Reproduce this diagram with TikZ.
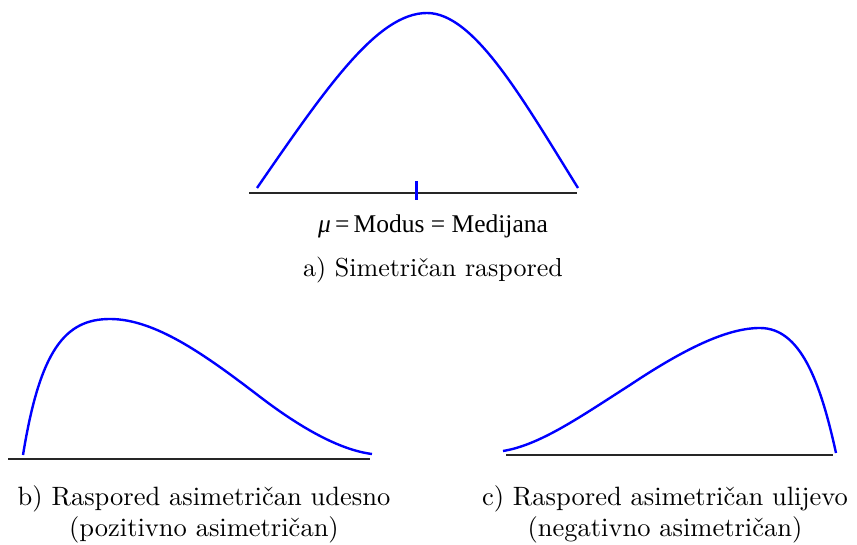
\documentclass[tikz,border=0pt]{standalone}
\usepackage{fontspec}
\newfontfamily\timesfont{Liberation Serif}
\newfontfamily\lmten{lmroman10-regular}[Extension=.otf]
\begin{document}
\begin{tikzpicture}[x=1pt,y=-1pt,
  axisline/.style={draw=black!85,line width=1.8pt},
  curveline/.style={draw=blue,line width=2.4pt},
  lbl/.style={font=\lmten\fontsize{26.5}{31}\selectfont,inner sep=0pt,align=center},
  eqlbl/.style={font=\timesfont\fontsize{25.5}{30}\selectfont,inner sep=0pt}]
\useasboundingbox (0,0) rectangle (857,545);
% a) symmetric
\draw[axisline] (249,193) -- (577,193);
\draw[curveline] (257,188) .. controls (328,85) and (378,13) .. (427,13)
  .. controls (474,13) and (522,98) .. (578,188);
\draw[draw=blue,line width=3pt] (416,181) -- (416,200);
\node[eqlbl] (eq) at (433,226) {\textit{μ}\,=\,Modus = Medijana};
\node[lbl,font=\lmten\fontsize{26}{31}\selectfont] (la) at (433,270) {a) Simetričan raspored};
% b) right skew
\draw[axisline] (8,459) -- (370,459);
\draw[curveline] (23,455) .. controls (40,350) and (65,319) .. (110,319)
  .. controls (155,319) and (205,355) .. (255,393)
  .. controls (300,428) and (340,450) .. (372,454);
\node[lbl] (lb) at (204,514) {b) Raspored asimetričan udesno\\(pozitivno asimetričan)};
% c) left skew
\draw[axisline] (506,455) -- (833,455);
\draw[curveline] (503,451) .. controls (540,445) and (580,417) .. (630,385)
  .. controls (690,345) and (730,328) .. (760,328)
  .. controls (800,328) and (820,380) .. (836,453);
\node[lbl] (lc) at (665,514) {c) Raspored asimetričan ulijevo\\(negativno asimetričan)};
\end{tikzpicture}
\end{document}
